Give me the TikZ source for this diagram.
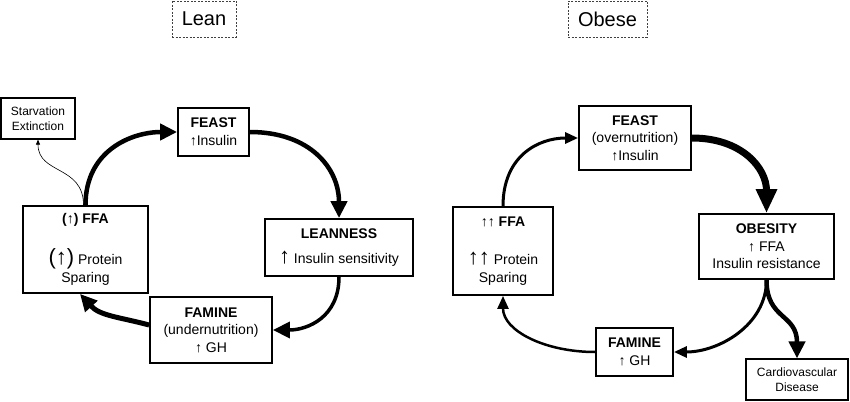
\documentclass[tikz,border=0pt]{standalone}
\usepackage{fontspec}
\setmainfont{Liberation Sans}
\usepackage{tikz}
\usetikzlibrary{arrows.meta}

\newcommand{\bigup}[1]{{\fontsize{22}{22}\selectfont #1}}

\begin{document}
\begin{tikzpicture}[x=1pt,y=-1pt,
    stage/.style={draw,line width=1.8pt,inner sep=0pt,align=center,font=\fontsize{14}{17.5}\selectfont},
    note/.style={draw,line width=1.2pt,inner sep=0pt,align=center,font=\fontsize{12}{15}\selectfont},
    heading/.style={draw=black!75,dash pattern=on 2pt off 1.5pt,line width=0.8pt,inner sep=0pt,font=\fontsize{20}{24}\selectfont},
    heavy flow/.style={line width=#1,-{Triangle[length=17pt,width=16pt]}},
    light flow/.style={line width=#1,-{Triangle[length=13pt,width=11pt]}},
    thin flow/.style={line width=0.6pt,-{Triangle[length=5pt,width=4pt]}},
  ]
    \useasboundingbox (0,0) rectangle (850,401);

    % titles
    \node[heading,minimum width=64pt,minimum height=36pt] (leanTitle) at (204,19) {Lean};
    \node[heading,minimum width=79pt,minimum height=36pt] (obeseTitle) at (607.5,19) {Obese};

    % lean cycle
    \node[note,minimum width=74pt,minimum height=41pt] (starv) at (38,118.5) {Starvation\\Extinction};
    \node[stage,minimum width=71pt,minimum height=48pt] (feastL) at (213.5,132) {\textbf{FEAST}\\↑Insulin};
    \node[stage,minimum width=148pt,minimum height=57pt] (leanness) at (339,247.5) {\textbf{LEANNESS}\\[7pt]\bigup{↑} Insulin sensitivity};
    \node[stage,minimum width=122pt,minimum height=66pt] (famineL) at (211,330) {\textbf{FAMINE}\\(undernutrition)\\↑ GH};
    \node[stage,minimum width=125pt,minimum height=87pt] (ffaL) at (85.5,249.5) {\textbf{(↑) FFA}\\[21pt]\bigup{(↑)} Protein\\Sparing};

    \draw[heavy flow=4.5pt] (ffaL.north) .. controls +(0,-55) and +(-45,0) .. (feastL.west);
    \draw[heavy flow=4.5pt] (feastL.east) .. controls +(60,0) and +(0,-50) .. (leanness.north);
    \draw[heavy flow=3.5pt] (leanness.south) .. controls +(0,40) and +(35,0) .. (famineL.east);
    \draw[heavy flow=5pt] ([yshift=5pt]famineL.west) .. controls +(-30,-8) and +(20,22) .. ([xshift=-5.5pt]ffaL.south);
    \draw[thin flow] ([xshift=-2pt]ffaL.north) .. controls +(0,-40) and +(0,35) .. (starv.south);

    % obese cycle
    \node[stage,minimum width=112pt,minimum height=64pt] (feastR) at (635,138) {\textbf{FEAST}\\(overnutrition)\\↑Insulin};
    \node[stage,minimum width=135pt,minimum height=65pt] (obesity) at (766.5,246.5) {\textbf{OBESITY}\\↑ FFA\\Insulin resistance};
    \node[stage,minimum width=77pt,minimum height=48pt] (famineR) at (634.5,352) {\textbf{FAMINE}\\↑ GH};
    \node[stage,minimum width=100pt,minimum height=88pt] (ffaR) at (503,251) {↑↑ \textbf{FFA}\\[21pt]\bigup{↑↑} Protein\\Sparing};
    \node[note,minimum width=102pt,minimum height=41pt] (cvd) at (797,379.5) {Cardiovascular\\Disease};

    \draw[light flow=3pt] (ffaR.north) .. controls +(0,-50) and +(-40,0) .. (feastR.west);
    \draw[line width=7pt,-{Triangle[length=24pt,width=20pt]}] (feastR.east) .. controls +(50,0) and +(0,-45) .. (obesity.north);
    \draw[light flow=3pt] (obesity.south) .. controls +(0,45) and +(45,0) .. (famineR.east);
    \draw[light flow=2.5pt] (famineR.west) .. controls +(-50,0) and +(0,35) .. (ffaR.south);
    \draw[heavy flow=4.5pt] (obesity.south) .. controls +(0,40) and +(0,-45) .. (cvd.north);
\end{tikzpicture}
\end{document}
